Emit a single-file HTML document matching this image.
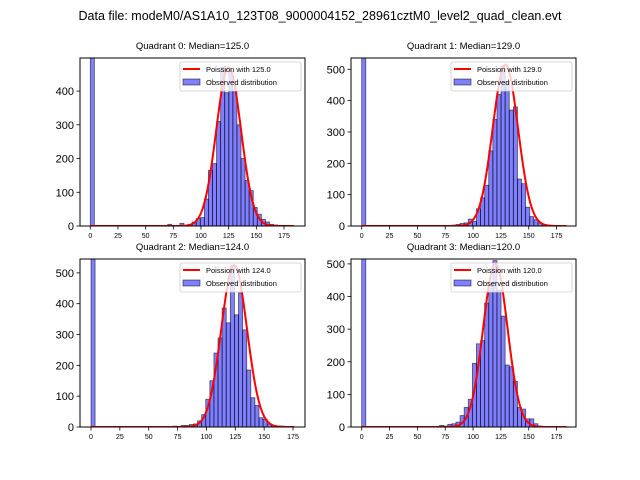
<!DOCTYPE html>
<html><head><meta charset="utf-8"><style>
body{margin:0;background:#fff;}
svg{display:block;font-family:"Liberation Sans","DejaVu Sans",sans-serif;}
</style></head><body>
<svg id="chart" width="640" height="480" viewBox="0 0 640 480" xmlns="http://www.w3.org/2000/svg">
<rect width="640" height="480" fill="#fff"/>
<text x="320" y="20" font-size="12.5" text-anchor="middle">Data file: modeM0/AS1A10_123T08_9000004152_28961cztM0_level2_quad_clean.evt</text>
</svg>
<script>
const panelTitles = ["Quadrant 0: Median=125.0","Quadrant 1: Median=129.0","Quadrant 2: Median=124.0","Quadrant 3: Median=120.0"];
const poissonMeans = [125,129,124,120];
const poissonPeaks = [470,515,525,500];
const zeroBinCounts = [2000,2000,2000,2000];
const firstBin = [19,22,20,19];
const binWidths = [3.68,3.68,3.55,3.68];
const q0Counts = [5,0,0,8,0,5,12,22,25,80,165,185,310,470,395,460,400,300,200,135,105,55,35,20,12,5,3,0];
const q1Counts = [3,5,8,10,22,15,55,90,130,240,340,420,510,460,370,380,150,135,60,30,20,10,5,3,0];
const q2Counts = [3,0,5,5,8,10,20,40,90,150,240,289,386,338,525,364,435,315,185,95,70,30,25,10,5,3,3];
const q3Counts = [5,3,8,10,15,35,60,85,195,255,265,380,440,510,420,340,190,185,140,60,55,25,25,10,3,0];
const yTicks = [[0,100,200,300,400],[0,100,200,300,400,500],[0,100,200,300,400,500],[0,100,200,300,400,500]];
const xTicks = [0,25,50,75,100,125,150,175];
const counts = [q0Counts,q1Counts,q2Counts,q3Counts];
const xMax = [184,184,176,184];

// layout (pixels)
const boxes = [
 {l:80,r:305,t:58,b:226,x0:90.3,x175:284,yMax:498},
 {l:351,r:576,t:58,b:226,x0:361.7,x175:556.6,yMax:536},
 {l:80,r:305,t:259,b:427,x0:91,x175:293,yMax:545},
 {l:351,r:576,t:259,b:427,x0:361.7,x175:556.6,yMax:515}
];
const NS="http://www.w3.org/2000/svg";
const svg=document.getElementById('chart');
function mk(tag,attrs,parent){const e=document.createElementNS(NS,tag);for(const k in attrs)e.setAttribute(k,attrs[k]);(parent||svg).appendChild(e);return e;}

boxes.forEach((B,i)=>{
  const g=mk('g',{});
  
  
  const X=v=>B.x0+(B.x175-B.x0)*v/175;
  const Y=v=>B.b-(B.b-B.t)*v/B.yMax;
  const clipId='clip'+i;
  const cp=mk('clipPath',{id:clipId},g);
  mk('rect',{x:B.l,y:B.t,width:B.r-B.l,height:B.b-B.t},cp);
  const plot=mk('g',{'clip-path':'url(#'+clipId+')'},g);
  const w=binWidths[i];
  const zb=mk('rect',{x:X(0),y:Y(zeroBinCounts[i]),width:X(w)-X(0),height:Y(0)-Y(zeroBinCounts[i]),fill:'rgba(0,0,255,0.5)',stroke:'rgba(0,0,0,0.6)','stroke-width':0.8},plot);
  
  
  counts[i].forEach((c,j)=>{
    if(c<=0)return;
    const x=(firstBin[i]+j)*w;
    const r=mk('rect',{x:X(x),y:Y(c),width:X(x+w)-X(x),height:Y(0)-Y(c),fill:'rgba(0,0,255,0.5)',stroke:'rgba(0,0,0,0.6)','stroke-width':0.8},plot);
    
    
  });
  const mu=poissonMeans[i],pk=poissonPeaks[i],s=Math.sqrt(mu);
  let d='';
  for(let v=0;v<=xMax[i];v+=0.5){const y=pk*Math.exp(-((v-mu)**2)/(2*s*s));d+=(v===0?'M':'L')+X(v).toFixed(2)+','+Y(y).toFixed(2);}
  const p=mk('path',{d:d,fill:'none',stroke:'#ff0000','stroke-width':2},plot);
  
  
  mk('rect',{x:B.l,y:B.t,width:B.r-B.l,height:B.b-B.t,fill:'none',stroke:'#000','stroke-width':1},g);
  xTicks.forEach(t=>{
    const x=X(t);
    mk('line',{x1:x,x2:x,y1:B.b,y2:B.b+3.5,stroke:'#000','stroke-width':0.8},g);
    const tx=mk('text',{x:x,y:B.b+12,'font-size':7,'text-anchor':'middle'},g);tx.textContent=t;
    
    
  });
  yTicks[i].forEach(t=>{
    const y=Y(t);
    mk('line',{x1:B.l,x2:B.l-3.5,y1:y,y2:y,stroke:'#000','stroke-width':0.8},g);
    const tx=mk('text',{x:B.l-6,y:y+4,'font-size':11,'text-anchor':'end'},g);tx.textContent=t;
    
    
  });
  const tt=mk('text',{x:(B.l+B.r)/2,y:B.t-9,'font-size':9.5,'text-anchor':'middle'},g);tt.textContent=panelTitles[i];
  
  
  const lg=mk('g',{},g);
  
  
  const lx=B.r-125,ly=B.t+4;
  mk('rect',{x:lx,y:ly,width:121,height:29,rx:2,fill:'rgba(255,255,255,0.8)',stroke:'#ccc','stroke-width':0.8},lg);
  mk('line',{x1:lx+3,x2:lx+20,y1:ly+7,y2:ly+7,stroke:'#ff0000','stroke-width':2},lg);
  const t1=mk('text',{x:lx+26,y:ly+10,'font-size':7.5},lg);t1.textContent='Poission with '+mu.toFixed(1);
  
  
  mk('rect',{x:lx+3,y:ly+17,width:17,height:6,fill:'rgba(0,0,255,0.5)',stroke:'rgba(0,0,0,0.6)','stroke-width':0.8},lg);
  const t2=mk('text',{x:lx+26,y:ly+23,'font-size':7.5},lg);t2.textContent='Observed distribution';
  
  
});
</script>
</body></html>
